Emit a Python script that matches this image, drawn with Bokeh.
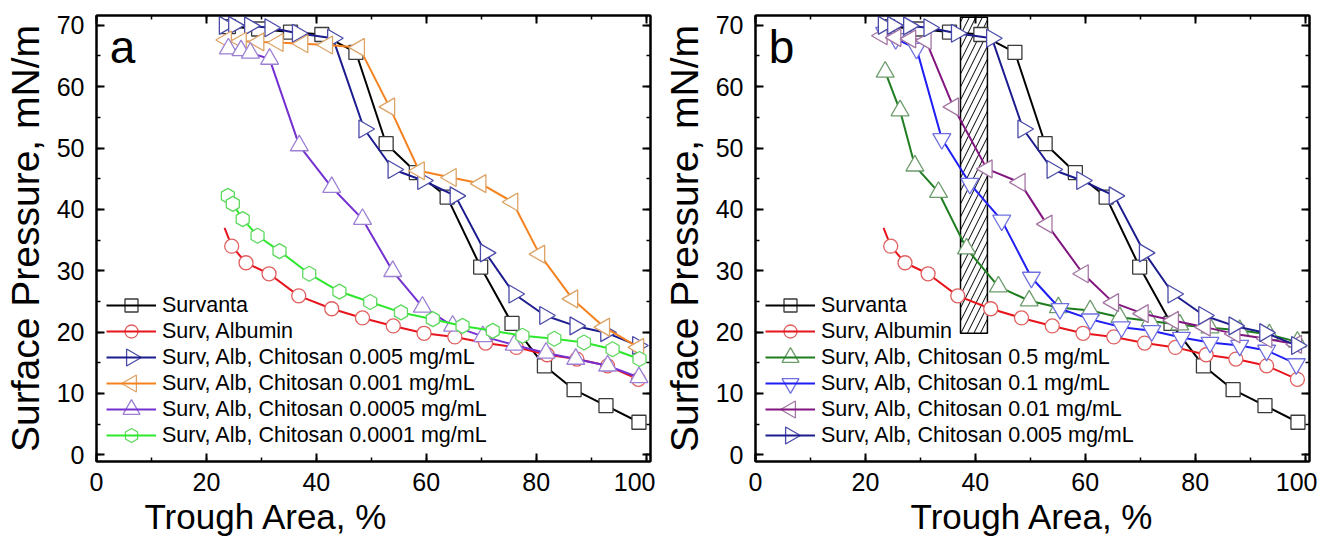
import math
from bokeh.plotting import figure
from bokeh.models import (Range1d, LinearAxis, SingleIntervalTicker, Legend,
                          LegendItem, Label, Title)
from bokeh.layouts import row
from bokeh.embed import file_html
from bokeh.resources import INLINE

FONT = "Liberation Sans"

# ---------------- data ----------------
surv_x = [24.0, 29.5, 35.3, 41.0, 47.2, 52.7, 58.2, 63.8, 69.9, 75.6, 81.5, 86.9, 92.7, 98.7]
surv_y = [69.8, 69.4, 68.9, 68.5, 65.6, 50.7, 46.0, 42.0, 30.6, 21.4, 14.5, 10.6, 8.0, 5.3]

alb_start_x = 23.3
alb_start_y = 37.0
alb_x = [24.6, 27.2, 31.4, 36.8, 42.8, 48.4, 54.0, 59.6, 65.2, 70.8, 76.4, 82.0, 87.4, 93.0, 98.6]
alb_y = [34.0, 31.3, 29.5, 25.9, 23.8, 22.3, 21.0, 19.8, 19.2, 18.2, 17.5, 16.3, 15.6, 14.5, 12.3]

c0005_x = [23.3, 25.0, 27.9, 31.6, 36.6, 43.0, 48.7, 54.0, 59.4, 65.3, 70.8, 76.0, 81.6, 87.1, 92.7, 98.5]
c0005_y = [70.0, 70.0, 69.9, 69.6, 68.7, 67.9, 53.1, 46.5, 44.7, 42.2, 32.9, 26.2, 22.7, 21.0, 19.9, 17.8]

c0001_x = [23.6, 26.3, 29.5, 33.0, 37.5, 42.0, 47.8, 53.3, 58.7, 64.5, 69.9, 75.7, 80.6, 86.6, 92.4, 98.6]
c0001_y = [67.6, 67.4, 67.3, 67.2, 67.0, 66.8, 66.4, 56.7, 46.3, 45.2, 44.2, 41.2, 32.7, 25.4, 20.8, 17.5]

c00005_x = [24.0, 26.3, 28.0, 31.5, 36.9, 42.8, 48.4, 53.9, 59.3, 64.8, 70.3, 76.0, 81.8, 87.2, 93.0, 98.7]
c00005_y = [66.2, 65.9, 65.5, 64.5, 50.4, 43.6, 38.4, 29.9, 24.1, 21.0, 19.3, 17.9, 16.6, 15.6, 14.5, 12.6]

c00001_x = [23.9, 24.8, 26.6, 29.3, 33.3, 38.7, 44.2, 49.8, 55.4, 61.2, 66.6, 72.1, 77.5, 83.3, 88.7, 93.9, 98.8]
c00001_y = [42.2, 40.9, 38.4, 35.7, 33.2, 29.5, 26.6, 24.9, 23.2, 22.1, 21.0, 20.2, 19.4, 18.9, 18.3, 17.2, 15.6]

c05_x = [23.6, 26.3, 29.0, 33.3, 38.4, 44.2, 49.8, 55.1, 60.9, 66.3, 71.8, 77.2, 82.7, 88.1, 93.5, 98.6]
c05_y = [62.4, 56.1, 47.1, 42.8, 33.6, 27.4, 25.1, 24.0, 23.5, 22.4, 21.8, 21.2, 20.7, 20.3, 19.6, 18.4]

c01_x = [23.5, 25.5, 29.3, 33.9, 39.0, 44.8, 50.2, 55.4, 60.9, 66.6, 72.1, 77.5, 82.7, 88.1, 93.0, 98.4]
c01_y = [68.8, 67.8, 66.2, 51.5, 44.2, 38.2, 28.9, 23.8, 22.1, 20.8, 20.2, 19.1, 18.3, 17.8, 17.0, 14.8]

c001_x = [23.0, 25.5, 28.2, 31.0, 36.0, 42.1, 48.1, 53.0, 59.6, 65.1, 70.5, 76.0, 81.8, 87.2, 93.0, 98.4]
c001_y = [68.3, 68.0, 67.8, 67.5, 56.7, 46.6, 44.4, 37.6, 29.5, 24.8, 23.0, 21.9, 20.8, 19.7, 18.9, 18.0]

# hatched region in panel b (x from..to, y from..to)
hatch_x0, hatch_x1 = 37.3, 42.2
hatch_y0, hatch_y1 = 19.8, 71.3

x_ticks_interval = 20
y_ticks_interval = 10

# ---------------- styles ----------------
FRAME_W, FRAME_H = 554, 446
LEG_X, LEG_Y = 10, 13          # legend bottom-left offset inside frame (px)
LEG_GLYPH_W, LEG_ROW_H = 50, 26


def style(color, outline, marker, angle=0.0, size=14):
    return dict(color=color, outline=outline, marker=marker, angle=angle, size=size)


ST = {
    "surv": style("#000000", "#3a3a3a", "square", size=14),
    "alb": style("#e8141c", "#e06060", "circle", size=14),
    "c0005": style("#1c1c8e", "#4a4aa8", "triangle", -math.pi / 2, 18),
    "c0001": style("#f5821f", "#dca468", "triangle", math.pi / 2, 18),
    "c00005": style("#7430d0", "#9c80d4", "triangle", 0.0, 18),
    "c00001": style("#2ee82e", "#5ed85e", "hex", math.pi / 2, 15),
    "c05": style("#1e7d1e", "#6c9c6c", "triangle", 0.0, 18),
    "c01": style("#1e1ef5", "#7070e0", "inverted_triangle", 0.0, 18),
    "c001": style("#82157f", "#a476a4", "triangle", math.pi / 2, 18),
}


def make_panel(letter, series, border_left, border_right, hatch=False,
               xtitle_align="center", xtitle_offset=0):
    p = figure(frame_width=FRAME_W, frame_height=FRAME_H,
               x_range=Range1d(0, 100.8), y_range=Range1d(-1.1, 71.6),
               output_backend="svg", toolbar_location=None,
               min_border_left=border_left, min_border_right=border_right,
               min_border_top=15, min_border_bottom=40)
    p.extra_x_ranges = {"px": Range1d(0, FRAME_W)}
    p.extra_y_ranges = {"px": Range1d(0, FRAME_H)}
    p.grid.visible = False
    p.outline_line_color = "black"
    p.outline_line_width = 2
    p.background_fill_color = "white"
    p.border_fill_color = "white"

    xa = p.below[0]
    ya = p.left[0]
    xt = SingleIntervalTicker(interval=x_ticks_interval, num_minor_ticks=2)
    yt = SingleIntervalTicker(interval=y_ticks_interval, num_minor_ticks=2)
    xa.ticker = xt
    ya.ticker = yt
    top = LinearAxis(ticker=xt, major_label_text_font_size="1px",
                     major_label_text_color=None, major_label_standoff=0)
    right = LinearAxis(ticker=yt, major_label_text_font_size="1px",
                       major_label_text_color=None, major_label_standoff=0)
    p.add_layout(top, "above")
    p.add_layout(right, "right")
    for ax in (xa, ya, top, right):
        ax.axis_line_width = 2
        ax.axis_line_color = "black"
        ax.major_tick_in = 8
        ax.major_tick_out = 0
        ax.minor_tick_in = 4
        ax.minor_tick_out = 0
        ax.major_tick_line_width = 2
        ax.minor_tick_line_width = 1.5
        ax.major_tick_line_color = "black"
        ax.minor_tick_line_color = "black"
    for ax in (xa, ya):
        ax.major_label_text_color = "black"
        ax.major_label_text_font = FONT
        ax.major_label_text_font_size = "25px"
        ax.axis_label_text_font = FONT
        ax.axis_label_text_font_size = "39px"
        ax.axis_label_text_font_style = "normal"
        ax.axis_label_text_color = "black"
    ya.major_label_standoff = 12
    ya.axis_label = "Surface Pressure, mN/m"
    ya.axis_label_standoff = 7
    xa.major_label_standoff = 11
    # x-axis title (its horizontal position differs between the panels)
    p.add_layout(Title(text="Trough Area, %", align=xtitle_align, offset=xtitle_offset,
                       text_font=FONT, text_font_size="35px", text_font_style="normal",
                       text_color="black", standoff=3), "below")

    if hatch:
        p.quad(left=[hatch_x0], right=[hatch_x1], bottom=[hatch_y0], top=[hatch_y1],
               fill_color=None, line_color="black", line_width=1.5,
               hatch_pattern="/", hatch_color="black", hatch_weight=1, hatch_scale=13)

    items = []
    n = len(series)
    for i, (label, key, xs, ys, lx, ly) in enumerate(series):
        s = ST[key]
        r_line = p.line(lx, ly, line_color=s["color"], line_width=2)
        p.scatter(xs, ys, marker=s["marker"], size=s["size"], angle=s["angle"],
                  fill_color="white", line_color=s["outline"], line_width=1.3)
        # legend symbol (Bokeh's legend does not rotate markers)
        cy = LEG_Y + LEG_ROW_H * (n - i) - LEG_ROW_H / 2
        cx = LEG_X + LEG_GLYPH_W / 2
        p.scatter([cx], [cy], x_range_name="px", y_range_name="px",
                  marker=s["marker"], size=s["size"] - 1, angle=s["angle"],
                  fill_color="white", line_color=s["outline"], line_width=1.3)
        items.append(LegendItem(label=label, renderers=[r_line]))

    leg = Legend(items=items, location=(LEG_X, LEG_Y), orientation="vertical",
                 glyph_width=LEG_GLYPH_W, glyph_height=LEG_ROW_H, spacing=0,
                 padding=0, margin=0, label_standoff=6, label_text_font=FONT,
                 label_text_font_size="21.5px", label_text_color="black",
                 label_height=LEG_ROW_H, background_fill_alpha=0,
                 border_line_color=None)
    p.add_layout(leg)

    p.add_layout(Label(x=2.4, y=66.5, text=letter, text_font=FONT, text_font_size="46px",
                       text_color="black", text_baseline="middle"))
    return p


series_a = [
    ("Survanta", "surv", surv_x, surv_y, surv_x, surv_y),
    ("Surv, Albumin", "alb", alb_x, alb_y, [alb_start_x] + alb_x, [alb_start_y] + alb_y),
    ("Surv, Alb, Chitosan 0.005 mg/mL", "c0005", c0005_x, c0005_y, c0005_x, c0005_y),
    ("Surv, Alb, Chitosan 0.001 mg/mL", "c0001", c0001_x, c0001_y, c0001_x, c0001_y),
    ("Surv, Alb, Chitosan 0.0005 mg/mL", "c00005", c00005_x, c00005_y, c00005_x, c00005_y),
    ("Surv, Alb, Chitosan 0.0001 mg/mL", "c00001", c00001_x, c00001_y, c00001_x, c00001_y),
]
series_b = [
    ("Survanta", "surv", surv_x, surv_y, surv_x, surv_y),
    ("Surv, Albumin", "alb", alb_x, alb_y, [alb_start_x] + alb_x, [alb_start_y] + alb_y),
    ("Surv, Alb, Chitosan 0.5 mg/mL", "c05", c05_x, c05_y, c05_x, c05_y),
    ("Surv, Alb, Chitosan 0.1 mg/mL", "c01", c01_x, c01_y, c01_x, c01_y),
    ("Surv, Alb, Chitosan 0.01 mg/mL", "c001", c001_x, c001_y, c001_x, c001_y),
    ("Surv, Alb, Chitosan 0.005 mg/mL", "c0005", c0005_x, c0005_y, c0005_x, c0005_y),
]

pa = make_panel("a", series_a, 89, 5, hatch=False, xtitle_align="left", xtitle_offset=48)
pb = make_panel("b", series_b, 100, 8, hatch=True, xtitle_align="center", xtitle_offset=0)

layout = row(pa, pb)
open("out.html", "w").write(file_html(layout, INLINE))
